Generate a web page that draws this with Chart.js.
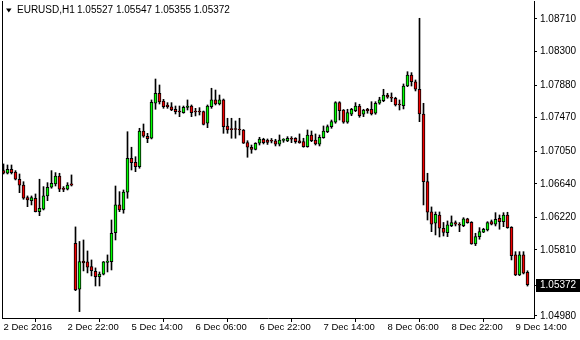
<!DOCTYPE html>
<html>
<head>
<meta charset="utf-8">
<script src="https://cdn.jsdelivr.net/npm/chart.js"></script>
<style>
  html, body { margin: 0; padding: 0; background: #fff; }
  #wrap { width: 580px; height: 340px; }
</style>
</head>
<body>
<div id="wrap"><canvas id="myChart" width="580" height="340"></canvas></div>
<script>
// EURUSD H1, 2 Dec 2016 06:00 .. 9 Dec 17:00
const symbol = 'EURUSD,H1';

const opens = [
  1.06805, 1.06772, 1.06822, 1.06788, 1.06697, 1.06625, 1.06466, 1.06428, 1.06458, 1.06290,
  1.06320, 1.06487, 1.06596, 1.06638, 1.06738, 1.06575, 1.06571, 1.06638, 1.05893, 1.05315,
  1.05670, 1.05658, 1.05599, 1.05541, 1.05473, 1.05503, 1.05652, 1.05662, 1.06026, 1.06374,
  1.06311, 1.06533, 1.06960, 1.06910, 1.06855, 1.07303, 1.07237, 1.07212, 1.07651, 1.07777,
  1.07680, 1.07630, 1.07608, 1.07576, 1.07554, 1.07533, 1.07598, 1.07617, 1.07548, 1.07548,
  1.07546, 1.07400, 1.07608, 1.07693, 1.07642, 1.07693, 1.07366, 1.07328, 1.07325, 1.07322,
  1.07316, 1.07156, 1.07099, 1.07073, 1.07149, 1.07199, 1.07190, 1.07178, 1.07178, 1.07136,
  1.07186, 1.07178, 1.07203, 1.07212, 1.07178, 1.07169, 1.07106, 1.07253, 1.07190, 1.07136,
  1.07219, 1.07294, 1.07357, 1.07413, 1.07659, 1.07567, 1.07413, 1.07513, 1.07558, 1.07617,
  1.07513, 1.07576, 1.07576, 1.07526, 1.07651, 1.07684, 1.07755, 1.07724, 1.07714, 1.07636,
  1.07621, 1.07868, 1.08007, 1.07922, 1.07827, 1.07517, 1.06666, 1.06286, 1.06144, 1.06248,
  1.06081, 1.06026, 1.06114, 1.06152, 1.06126, 1.06114, 1.06198, 1.06157, 1.05884, 1.05976,
  1.06031, 1.06060, 1.06164, 1.06131, 1.06207, 1.06164, 1.06248, 1.06094, 1.05746, 1.05495,
  1.05746, 1.05527
];
const highs = [
  1.06889, 1.06876, 1.06876, 1.06805, 1.06763, 1.06666, 1.06487, 1.06487, 1.06512, 1.06697,
  1.06604, 1.06654, 1.06805, 1.06780, 1.06772, 1.06604, 1.06654, 1.06751, 1.06098, 1.05915,
  1.05934, 1.05796, 1.05683, 1.05583, 1.05532, 1.05664, 1.05746, 1.06185, 1.06612, 1.06541,
  1.06562, 1.07294, 1.07099, 1.06980, 1.07337, 1.07391, 1.07274, 1.07693, 1.07956, 1.07881,
  1.07701, 1.07659, 1.07659, 1.07617, 1.07617, 1.07617, 1.07693, 1.07630, 1.07588, 1.07596,
  1.07554, 1.07630, 1.07840, 1.07818, 1.07755, 1.07705, 1.07463, 1.07463, 1.07429, 1.07463,
  1.07322, 1.07181, 1.07127, 1.07156, 1.07224, 1.07212, 1.07203, 1.07209, 1.07199, 1.07253,
  1.07207, 1.07232, 1.07232, 1.07219, 1.07266, 1.07212, 1.07316, 1.07303, 1.07266, 1.07253,
  1.07366, 1.07379, 1.07441, 1.07671, 1.07671, 1.07573, 1.07576, 1.07588, 1.07659, 1.07639,
  1.07576, 1.07588, 1.07671, 1.07671, 1.07727, 1.07827, 1.07777, 1.07781, 1.07727, 1.07693,
  1.07894, 1.08048, 1.08036, 1.07944, 1.08719, 1.07651, 1.06772, 1.06349, 1.06286, 1.06286,
  1.06154, 1.06173, 1.06236, 1.06173, 1.06152, 1.06214, 1.06207, 1.06164, 1.06018, 1.06089,
  1.06081, 1.06164, 1.06185, 1.06277, 1.06248, 1.06277, 1.06282, 1.06101, 1.05787, 1.05787,
  1.05787, 1.05547
];
const lows = [
  1.06763, 1.06763, 1.06763, 1.06688, 1.06528, 1.06445, 1.06352, 1.06374, 1.06286, 1.06239,
  1.06311, 1.06428, 1.06584, 1.06612, 1.06541, 1.06541, 1.06562, 1.06612, 1.05297, 1.05034,
  1.05545, 1.05520, 1.05482, 1.05356, 1.05356, 1.05495, 1.05532, 1.05557, 1.05934, 1.06290,
  1.06270, 1.06458, 1.06813, 1.06792, 1.06835, 1.07224, 1.07156, 1.07203, 1.07576, 1.07642,
  1.07588, 1.07588, 1.07558, 1.07517, 1.07483, 1.07526, 1.07567, 1.07483, 1.07492, 1.07504,
  1.07379, 1.07345, 1.07588, 1.07630, 1.07630, 1.07274, 1.07274, 1.07212, 1.07212, 1.07253,
  1.07146, 1.06973, 1.07023, 1.07065, 1.07127, 1.07140, 1.07134, 1.07153, 1.07115, 1.07115,
  1.07161, 1.07169, 1.07156, 1.07149, 1.07149, 1.07099, 1.07099, 1.07169, 1.07127, 1.07115,
  1.07212, 1.07282, 1.07337, 1.07400, 1.07441, 1.07400, 1.07400, 1.07495, 1.07546, 1.07475,
  1.07483, 1.07526, 1.07504, 1.07513, 1.07639, 1.07671, 1.07714, 1.07671, 1.07617, 1.07567,
  1.07580, 1.07860, 1.07868, 1.07806, 1.07420, 1.06374, 1.06185, 1.06038, 1.05997, 1.05972,
  1.05984, 1.05976, 1.06101, 1.06110, 1.06038, 1.06101, 1.06144, 1.05880, 1.05863, 1.05943,
  1.06026, 1.06047, 1.06123, 1.06110, 1.06069, 1.06101, 1.06081, 1.05683, 1.05486, 1.05486,
  1.05507, 1.05355
];
const closes = [
  1.06772, 1.06822, 1.06780, 1.06697, 1.06621, 1.06458, 1.06437, 1.06466, 1.06290, 1.06332,
  1.06487, 1.06596, 1.06646, 1.06738, 1.06571, 1.06569, 1.06625, 1.06621, 1.05306, 1.05662,
  1.05645, 1.05591, 1.05549, 1.05473, 1.05507, 1.05658, 1.05670, 1.06018, 1.06374, 1.06311,
  1.06537, 1.06960, 1.06905, 1.06855, 1.07303, 1.07237, 1.07207, 1.07664, 1.07777, 1.07668,
  1.07608, 1.07608, 1.07567, 1.07546, 1.07542, 1.07601, 1.07617, 1.07533, 1.07542, 1.07542,
  1.07387, 1.07617, 1.07693, 1.07642, 1.07693, 1.07357, 1.07316, 1.07320, 1.07322, 1.07316,
  1.07149, 1.07099, 1.07073, 1.07149, 1.07203, 1.07156, 1.07159, 1.07174, 1.07136, 1.07190,
  1.07194, 1.07212, 1.07199, 1.07169, 1.07156, 1.07106, 1.07253, 1.07181, 1.07140, 1.07224,
  1.07303, 1.07357, 1.07420, 1.07659, 1.07558, 1.07413, 1.07533, 1.07576, 1.07617, 1.07495,
  1.07567, 1.07558, 1.07517, 1.07651, 1.07693, 1.07755, 1.07727, 1.07714, 1.07630, 1.07630,
  1.07868, 1.08007, 1.07922, 1.07827, 1.07517, 1.06666, 1.06282, 1.06131, 1.06257, 1.06081,
  1.06028, 1.06123, 1.06152, 1.06131, 1.06119, 1.06198, 1.06152, 1.05884, 1.05976, 1.06038,
  1.06069, 1.06152, 1.06131, 1.06194, 1.06164, 1.06248, 1.06089, 1.05737, 1.05495, 1.05746,
  1.05516, 1.05372
];

// price scale labels on the right
const priceTicks = [1.04980, 1.05810, 1.06220, 1.06640, 1.07050, 1.07470, 1.07880, 1.08300, 1.08710];
// time labels, one every 16 bars
const timeLabels = ['2 Dec 2016', '2 Dec 22:00', '5 Dec 14:00', '6 Dec 06:00', '6 Dec 22:00',
                    '7 Dec 14:00', '8 Dec 06:00', '8 Dec 22:00', '9 Dec 14:00'];
const labelStep = 16;

const bullColor = '#00ff00';
const bearColor = '#f00000';
const fontFamily = '"Liberation Sans", Arial, sans-serif';
const last = closes.length - 1;

const mtDecor = {
  id: 'mtDecor',
  afterDraw(chart) {
    const ctx = chart.ctx;
    const area = chart.chartArea;
    const y = chart.scales.y;
    ctx.save();
    // left frame line
    ctx.strokeStyle = '#000';
    ctx.lineWidth = 1;
    ctx.beginPath();
    ctx.moveTo(area.left + 0.5, area.top);
    ctx.lineTo(area.left + 0.5, area.bottom + 1);
    ctx.stroke();

    // title
    ctx.fillStyle = '#000';
    ctx.beginPath();
    ctx.moveTo(6, 8.5);
    ctx.lineTo(11.5, 8.5);
    ctx.lineTo(8.75, 12.5);
    ctx.closePath();
    ctx.fill();
    ctx.font = '10px ' + fontFamily;
    ctx.textBaseline = 'middle';
    ctx.textAlign = 'left';
    ctx.fillText(symbol, 17, 10.5);
    const ohlc = [opens[last], highs[last], lows[last], closes[last]].map(v => v.toFixed(5)).join(' ');
    ctx.fillText(ohlc, 77, 10.5);

    // current price label
    const py = Math.round(y.getPixelForValue(closes[last]));
    ctx.fillStyle = '#000';
    ctx.fillRect(area.right + 2, py - 6, 580 - area.right - 2, 13);
    ctx.beginPath();
    ctx.moveTo(area.right, py + 0.5);
    ctx.lineTo(area.right + 3, py + 0.5);
    ctx.stroke();
    ctx.fillStyle = '#fff';
    ctx.fillText(closes[last].toFixed(5), area.right + 6, py + 0.5);
    ctx.restore();
  }
};

const ctx = document.getElementById('myChart').getContext('2d');
const myChart = new Chart(ctx, {
  type: 'bar',
  data: {
    datasets: [{
      label: 'body',
      data: opens.map((o, i) => ({ x: i, y: [o, closes[i]] })),
      backgroundColor: opens.map((o, i) => closes[i] >= o ? bullColor : bearColor),
      borderColor: '#000',
      borderWidth: 1,
      borderSkipped: false,
      barThickness: 3,
      minBarLength: 1,
      grouped: false,
      order: 0
    }, {
      label: 'wick',
      data: lows.map((l, i) => ({ x: i, y: [l, highs[i]] })),
      backgroundColor: '#000',
      borderWidth: 0,
      barThickness: 1,
      grouped: false,
      order: 1
    }]
  },
  options: {
    responsive: false,
    animation: false,
    devicePixelRatio: 1,
    events: [],
    layout: { padding: { left: 2, top: 1, right: 0, bottom: 0 } },
    plugins: { legend: { display: false }, tooltip: { enabled: false } },
    scales: {
      x: {
        type: 'linear',
        min: -0.375,
        max: 132.625,
        offset: false,
        afterBuildTicks: scale => {
          scale.ticks = timeLabels.map((t, k) => ({ value: k * labelStep }));
        },
        afterFit: scale => {
          scale.height = 22;
          scale.paddingLeft = 0;
          scale.paddingRight = 0;
        },
        grid: { drawOnChartArea: false, drawTicks: true, tickLength: 4, color: '#000' },
        border: { display: true, color: '#000' },
        ticks: {
          autoSkip: false,
          maxRotation: 0,
          align: 'start',
          padding: 0,
          color: '#000',
          font: { family: fontFamily, size: 9.5 },
          callback: v => timeLabels[Math.round(v / labelStep)]
        }
      },
      y: {
        type: 'linear',
        position: 'right',
        min: 1.049537,
        max: 1.089361,
        afterBuildTicks: scale => {
          scale.ticks = priceTicks.map(v => ({ value: v }));
        },
        afterFit: scale => {
          scale.width = 46;
          scale.paddingTop = 0;
          scale.paddingBottom = 0;
        },
        grid: { drawOnChartArea: false, drawTicks: true, tickLength: 3, color: '#000' },
        border: { display: true, color: '#000' },
        ticks: {
          autoSkip: false,
          padding: 3,
          color: '#000',
          font: { family: fontFamily, size: 10 },
          callback: v => v.toFixed(5)
        }
      }
    }
  },
  plugins: [mtDecor]
});
</script>
</body>
</html>
